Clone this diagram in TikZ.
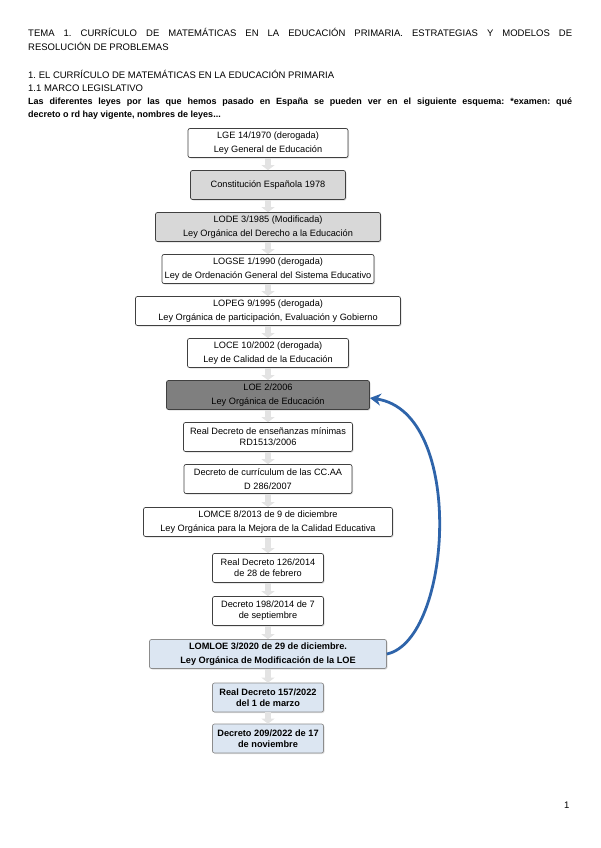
\documentclass[tikz,border=0pt]{standalone}
\usepackage{fontspec}
\setmainfont{Liberation Sans}
\usetikzlibrary{arrows.meta,shadows}
\definecolor{grisclaro}{RGB}{216,216,216}
\definecolor{grisoscuro}{RGB}{127,127,127}
\definecolor{azulclaro}{RGB}{220,230,242}
\definecolor{azulcurva}{RGB}{46,100,170}
\frenchspacing

\begin{document}
\begin{tikzpicture}[x=1pt,y=-1pt]
  \tikzset{
    box/.style={draw=black!75, rectangle, fill=white, rounded corners=2pt, line width=0.7pt, minimum height=29pt, inner sep=1pt, align=center, font=\fontsize{9.2}{14}\selectfont, node distance=42pt, drop shadow={shadow xshift=1pt, shadow yshift=-1pt, opacity=0.25}},
    boxgray/.style={box, fill=grisclaro},
    boxdark/.style={box, fill=grisoscuro},
    boxblue/.style={box, fill=azulclaro, draw=black!45, font=\fontsize{9.2}{14}\selectfont\bfseries},
    txt/.style={anchor=base west, inner sep=0pt, font=\fontsize{9.5}{13}\selectfont},
    conn/.style={draw=gray!22, line width=6pt, -{Triangle[length=5pt, width=13pt]}},
    line/.style={draw=azulcurva, line width=2.8pt, -{Stealth[length=11pt, width=12pt]}},
  }
  % cabecera
  \node [txt] (tit1) at (28,36.5) {\makebox[544pt][s]{TEMA 1. CURRÍCULO DE MATEMÁTICAS EN LA EDUCACIÓN PRIMARIA. ESTRATEGIAS Y MODELOS DE}};
  \node [txt] (tit2) at (28,50.5) {RESOLUCIÓN DE PROBLEMAS};
  \node [txt] (sec) at (28,78.5) {1. EL CURRÍCULO DE MATEMÁTICAS EN LA EDUCACIÓN PRIMARIA};
  \node [txt] (subsec) at (28,91.5) {1.1 MARCO LEGISLATIVO};
  \node [txt, font=\fontsize{9}{13}\selectfont\bfseries] (par1) at (28,104.5) {\makebox[544pt][s]{Las diferentes leyes por las que hemos pasado en España se pueden ver en el siguiente esquema: *examen: qué}};
  \node [txt, font=\fontsize{9}{13}\selectfont\bfseries] (par2) at (28,117.5) {decreto o rd hay vigente, nombres de leyes...};

  % esquema de leyes
  \node [box, minimum width=160pt] (lge) at (268,143) {LGE 14/1970 (derogada)\\ Ley General de Educación};
  \node [boxgray, minimum width=155pt, below of=lge] (ce) {Constitución Española 1978};
  \node [boxgray, minimum width=225pt, below of=ce] (lode) {LODE 3/1985 (Modificada)\\ Ley Orgánica del Derecho a la Educación};
  \node [box, minimum width=212pt, below of=lode] (logse) {LOGSE 1/1990 (derogada)\\ Ley de Ordenación General del Sistema Educativo};
  \node [box, minimum width=265pt, below of=logse] (lopeg) {LOPEG 9/1995 (derogada)\\ Ley Orgánica de participación, Evaluación y Gobierno};
  \node [box, minimum width=161pt, below of=lopeg] (loce) {LOCE 10/2002 (derogada)\\ Ley de Calidad de la Educación};
  \node [boxdark, minimum width=203pt, below of=loce] (loe) {LOE 2/2006\\ Ley Orgánica de Educación};
  \node [box, minimum width=169pt, below of=loe, font=\fontsize{9.2}{11}\selectfont] (rd1513) {Real Decreto de enseñanzas mínimas\\ RD1513/2006};
  \node [box, minimum width=168pt, below of=rd1513] (d286) {Decreto de currículum de las CC.AA\\ D 286/2007};
  \node [box, minimum width=249pt, below of=d286, node distance=43pt] (lomce) {LOMCE 8/2013 de 9 de diciembre\\ Ley Orgánica para la Mejora de la Calidad Educativa};
  \node [box, minimum width=111pt, below of=lomce, node distance=46pt, font=\fontsize{9.2}{11}\selectfont] (rd126) {Real Decreto 126/2014\\ de 28 de febrero};
  \node [box, minimum width=111pt, below of=rd126, node distance=43pt, font=\fontsize{9.2}{11}\selectfont] (d198) {Decreto 198/2014 de 7\\ de septiembre};
  \node [boxblue, minimum width=237pt, below of=d198, node distance=43pt] (lomloe) {LOMLOE 3/2020 de 29 de diciembre.\\ Ley Orgánica de Modificación de la LOE};
  \node [boxblue, minimum width=111pt, below of=lomloe, node distance=43.5pt, font=\fontsize{9.2}{11}\selectfont\bfseries] (rd157) {Real Decreto 157/2022\\ del 1 de marzo};
  \node [boxblue, minimum width=111pt, below of=rd157, node distance=41pt, font=\fontsize{9.2}{11}\selectfont\bfseries] (d209) {Decreto 209/2022 de 17\\ de noviembre};

  \path [conn] (lge) -- (ce);
  \path [conn] (ce) -- (lode);
  \path [conn] (lode) -- (logse);
  \path [conn] (logse) -- (lopeg);
  \path [conn] (lopeg) -- (loce);
  \path [conn] (loce) -- (loe);
  \path [conn] (loe) -- (rd1513);
  \path [conn] (rd1513) -- (d286);
  \path [conn] (d286) -- (lomce);
  \path [conn] (lomce) -- (rd126);
  \path [conn] (rd126) -- (d198);
  \path [conn] (d198) -- (lomloe);
  \path [conn] (lomloe) -- (rd157);
  \path [conn] (rd157) -- (d209);

  \path [line] (lomloe.east) .. controls (452,640) and (466,412) .. ([yshift=-3pt]loe.east);

  \node [txt] (pag) at (564,808.5) {1};
  \useasboundingbox (0,0) rectangle (600,848);
\end{tikzpicture}
\end{document}
